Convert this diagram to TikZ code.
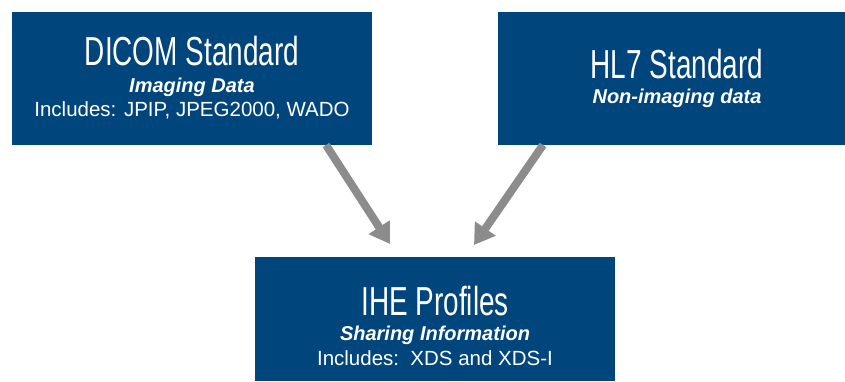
\documentclass[tikz,border=0pt]{standalone}
\usepackage{fontspec}
\setmainfont{Liberation Sans}
\usetikzlibrary{arrows.meta}
\definecolor{boxblue}{RGB}{0,69,124}
\definecolor{arrowgray}{RGB}{140,140,140}
\tikzset{
  bluebox/.style={fill=boxblue, draw=none, inner sep=0pt, outer sep=0pt},
  titletext/.style={text=white, anchor=base, inner sep=0pt, font=\fontsize{40.5}{42}\selectfont},
  subtext/.style={text=white, anchor=base, inner sep=0pt, font=\fontsize{20}{22}\selectfont\bfseries\itshape},
  bodytext/.style={text=white, anchor=base, inner sep=0pt, font=\fontsize{20.5}{22}\selectfont},
  flowarrow/.style={draw=arrowgray, line width=8pt, -{Triangle[width=24pt,length=20pt]}}
}
\newcommand{\condensed}[1]{\scalebox{0.69}[1]{#1}}
\begin{document}
\begin{tikzpicture}[x=1pt,y=-1pt]
\useasboundingbox (0,0) rectangle (845,381);
% boxes
\node[bluebox, minimum width=360pt, minimum height=133pt, anchor=north west] (dicom) at (12,12) {};
\node[bluebox, minimum width=347pt, minimum height=133pt, anchor=north west] (hl7) at (498,12) {};
\node[bluebox, minimum width=360pt, minimum height=124pt, anchor=north west] (ihe) at (255,257) {};
% texts
\node[titletext] (dicomtitle) at (192,65) {\condensed{DICOM Standard}};
\node[subtext] (dicomsub) at (192,92) {Imaging Data};
\node[bodytext] (dicombody) at (192,116) {Includes: JPIP, JPEG2000, WADO};
\node[titletext] (hltitle) at (677,78) {\condensed{HL7 Standard}};
\node[subtext] (hlsub) at (677,103) {Non-imaging data};
\node[titletext] (ihetitle) at (435,315) {\condensed{IHE Profiles}};
\node[subtext] (ihesub) at (435,340) {Sharing Information};
\node[bodytext] (ihebody) at (435,365) {Includes:\ \ XDS and XDS-I};
% arrows
\coordinate (a1s) at (326,145);
\coordinate (a1e) at (390,244);
\coordinate (a2s) at (543,145);
\coordinate (a2e) at (474,245);
\draw[flowarrow] (a1s) -- (a1e);
\draw[flowarrow] (a2s) -- (a2e);
\end{tikzpicture}
\end{document}
